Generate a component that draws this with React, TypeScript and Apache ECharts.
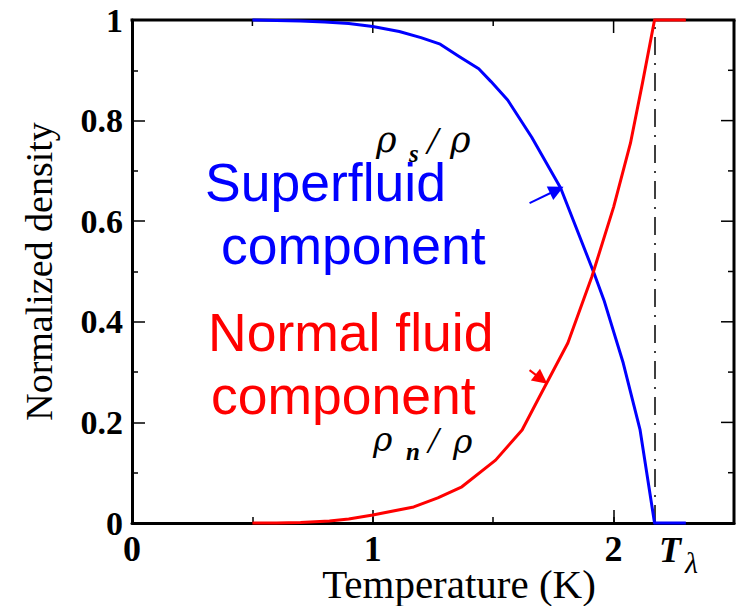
import React, { useEffect, useRef } from 'react';
import * as echarts from 'echarts';

// Lambda point temperature (K)
const T_LAMBDA = 2.17;

// Superfluid fraction rho_s / rho (blue)
const superT = [0.5, 0.6, 0.7, 0.8, 0.9, 1.0, 1.11, 1.2, 1.28, 1.36, 1.44, 1.49, 1.56, 1.66, 1.78, 1.92, 1.96, 2.04, 2.11, 2.17, 2.3];
const superRho = [1.0, 0.999, 0.998, 0.996, 0.993, 0.987, 0.977, 0.965, 0.952, 0.927, 0.903, 0.878, 0.841, 0.767, 0.666, 0.495, 0.443, 0.318, 0.185, 0, 0];

// Normal fluid fraction rho_n / rho (red)
const normalT = [0.5, 0.6, 0.7, 0.82, 0.9, 1.0, 1.17, 1.27, 1.37, 1.51, 1.62, 1.69, 1.81, 1.91, 2.0, 2.07, 2.12, 2.17, 2.3];
const normalRho = [0, 0, 0.001, 0.004, 0.008, 0.016, 0.032, 0.05, 0.072, 0.125, 0.185, 0.249, 0.358, 0.49, 0.628, 0.755, 0.875, 1, 1];

// Arrow annotations (data coords): [startT, startRho, endT, endRho]
const superArrow = [1.651, 0.636, 1.764, 0.662];
const normalArrow = [1.651, 0.304, 1.7, 0.286];

const X_MIN = 0, X_MAX = 2.5, Y_MIN = 0, Y_MAX = 1;
const xMajorTicks = [0, 1, 2];
const xMinorTicks = [0.5, 1.5];
const yMajorTicks = [0, 0.2, 0.4, 0.6, 0.8, 1];
const yMinorTicks = [0.1, 0.3, 0.5, 0.7, 0.9];
const xTickLabels = ['0', '1', '2'];
const yTickLabels = ['0', '0.2', '0.4', '0.6', '0.8', '1'];

const SERIF = '"Liberation Serif", "Times New Roman", serif';
const GREEK = '"DejaVu Serif", serif';
const SANS = '"Liberation Sans", Arial, sans-serif';

const MAJOR_LEN = 13;
const MINOR_LEN = 6;

// plot box layout (px)
const G_LEFT = 132, G_TOP = 20, G_RIGHT = 8, G_BOTTOM = 83, W = 742, H = 606;
const G_W = W - G_LEFT - G_RIGHT;
const G_H = H - G_TOP - G_BOTTOM;

function pairs(xs: number[], ys: number[]) {
  return xs.map((x, i) => [x, ys[i]]);
}

function arrowLine(a: number[]) {
  return [
    { coord: [a[0], a[1]], symbol: 'none' },
    { coord: [a[2], a[3]], symbol: 'triangle', symbolSize: 15 },
  ];
}

export default function App() {
  const ref = useRef<HTMLDivElement>(null);
  useEffect(() => {
    if (!ref.current) return;
    const chart = echarts.init(ref.current, undefined, { renderer: 'svg' });
    const gridRect = {
      left: G_LEFT, top: G_TOP, right: G_RIGHT, bottom: G_BOTTOM,
      containLabel: false, outerBoundsMode: 'none',
    };
    const tickStyle = { color: '#000', width: 1.5 };
    const lineAxis = { show: true, onZero: false, lineStyle: { color: '#000', width: 3 } };
    const noLine = { show: false, onZero: false };

    const txt = (text: string, x: number, y: number, extra: any) => ({
      type: 'text', x, y, z: 10,
      style: { text, fill: '#000', verticalAlign: 'middle', ...extra },
    });

    // top / right frame and its inward ticks
    const sx = (v: number) => G_LEFT + ((v - X_MIN) / (X_MAX - X_MIN)) * G_W;
    const sy = (v: number) => G_TOP + ((Y_MAX - v) / (Y_MAX - Y_MIN)) * G_H;
    const seg = (x1: number, y1: number, x2: number, y2: number, lw: number) => ({
      type: 'line', z: 4, silent: true, shape: { x1, y1, x2, y2 }, style: { stroke: '#000', lineWidth: lw },
    });
    const frame: any[] = [
      seg(G_LEFT - 1.5, G_TOP, G_LEFT + G_W + 1.5, G_TOP, 3),
      seg(G_LEFT + G_W, G_TOP, G_LEFT + G_W, G_TOP + G_H + 1.5, 3),
      ...xMajorTicks.map((v) => seg(sx(v), G_TOP, sx(v), G_TOP + MAJOR_LEN, 1.5)),
      ...xMinorTicks.map((v) => seg(sx(v), G_TOP, sx(v), G_TOP + MINOR_LEN, 1.5)),
      ...yMajorTicks.map((v) => seg(G_LEFT + G_W, sy(v), G_LEFT + G_W - MAJOR_LEN, sy(v), 1.5)),
      ...yMinorTicks.map((v) => seg(G_LEFT + G_W, sy(v), G_LEFT + G_W - MINOR_LEN, sy(v), 1.5)),
    ];

    const option: any = {
      animation: false,
      backgroundColor: '#fff',
      grid: [{ ...gridRect }, { ...gridRect }],
      xAxis: [
        {
          gridIndex: 0, type: 'value', position: 'bottom', min: X_MIN, max: X_MAX, interval: 1,
          axisLine: lineAxis,
          axisTick: { show: true, inside: true, length: MAJOR_LEN, lineStyle: tickStyle },
          splitLine: { show: false },
          axisLabel: {
            margin: 8, color: '#000', fontFamily: SERIF, fontWeight: 'bold', fontSize: 36,
            formatter: (v: number) => (Number.isInteger(v) && v <= 2 ? xTickLabels[v] : ''),
          },
          name: 'Temperature (K)', nameLocation: 'middle', nameGap: 40, nameMoveOverlap: false,
          nameTextStyle: { fontFamily: SERIF, fontSize: 41, color: '#000', padding: [0, 0, 0, 52] },
        },
        {
          gridIndex: 1, type: 'value', position: 'bottom', min: X_MIN, max: X_MAX, interval: 0.5,
          axisLine: noLine,
          axisTick: { show: true, inside: true, length: MINOR_LEN, lineStyle: tickStyle },
          splitLine: { show: false }, axisLabel: { show: false },
        },
      ],
      yAxis: [
        {
          gridIndex: 0, type: 'value', position: 'left', min: Y_MIN, max: Y_MAX, interval: 0.2,
          axisLine: lineAxis,
          axisTick: { show: true, inside: true, length: MAJOR_LEN, lineStyle: tickStyle },
          minorTick: { show: true, splitNumber: 2, length: MINOR_LEN, lineStyle: tickStyle },
          splitLine: { show: false },
          axisLabel: {
            margin: 9, color: '#000', fontFamily: SERIF, fontWeight: 'bold', fontSize: 34,
            formatter: (v: number) => yTickLabels[Math.round(v * 5)] ?? '',
          },
          name: 'Normalized density', nameLocation: 'middle', nameGap: 74, nameMoveOverlap: false,
          nameTextStyle: { fontFamily: SERIF, fontSize: 38, color: '#000' },
        },
        { gridIndex: 1, type: 'value', min: Y_MIN, max: Y_MAX, show: false },
      ],
      series: [
        {
          type: 'line', xAxisIndex: 0, yAxisIndex: 0, clip: false,
          data: pairs(superT, superRho),
          showSymbol: false, symbol: 'none',
          lineStyle: { color: '#0000ff', width: 3, join: 'round' },
          itemStyle: { color: '#0000ff' },
          z: 5,
          markLine: {
            silent: true, animation: false,
            label: { show: false },
            lineStyle: { color: '#0000ff', width: 2, type: 'solid' },
            data: [arrowLine(superArrow)],
          },
        },
        {
          type: 'line', xAxisIndex: 0, yAxisIndex: 0, clip: false,
          data: pairs(normalT, normalRho),
          showSymbol: false, symbol: 'none',
          lineStyle: { color: '#ff0000', width: 3, join: 'round' },
          itemStyle: { color: '#ff0000' },
          z: 5,
          markLine: {
            silent: true, animation: false,
            label: { show: false },
            lineStyle: { color: '#ff0000', width: 2, type: 'solid' },
            data: [arrowLine(normalArrow)],
          },
        },
        {
          type: 'line', xAxisIndex: 0, yAxisIndex: 0, data: [],
          z: 3,
          markLine: {
            silent: true, animation: false,
            symbol: ['none', 'none'],
            label: { show: false },
            lineStyle: { color: '#000', width: 1.5, type: [18, 8, 2, 8] },
            data: [[{ coord: [T_LAMBDA, Y_MIN] }, { coord: [T_LAMBDA, Y_MAX] }]],
          },
        },
      ],
      graphic: [
        ...frame,
        txt('Superfluid', 205, 182, { fontFamily: SANS, fontSize: 53.5, fill: '#0000ff', lineHeight: 40 }),
        txt('component', 221, 245, { fontFamily: SANS, fontSize: 53.5, fill: '#0000ff', lineHeight: 40 }),
        txt('Normal fluid', 208, 332, { fontFamily: SANS, fontSize: 53.5, fill: '#ff0000', lineHeight: 40 }),
        txt('component', 211, 395, { fontFamily: SANS, fontSize: 53.5, fill: '#ff0000', lineHeight: 40 }),
        // rho_s / rho
        txt('ρ', 376, 140, { fontFamily: GREEK, fontStyle: 'italic', fontSize: 35, lineHeight: 22 }),
        txt('s', 409, 153, { fontFamily: SERIF, fontStyle: 'italic', fontWeight: 'bold', fontSize: 25, lineHeight: 12 }),
        txt('/', 427, 140, { fontFamily: SERIF, fontStyle: 'italic', fontSize: 40, lineHeight: 22 }),
        txt('ρ', 450, 140, { fontFamily: GREEK, fontStyle: 'italic', fontSize: 35, lineHeight: 22 }),
        // rho_n / rho
        txt('ρ', 373, 439, { fontFamily: GREEK, fontStyle: 'italic', fontSize: 33, lineHeight: 22 }),
        txt('n', 406, 451, { fontFamily: SERIF, fontStyle: 'italic', fontWeight: 'bold', fontSize: 25, lineHeight: 12 }),
        txt('/', 428, 440, { fontFamily: SERIF, fontStyle: 'italic', fontSize: 38, lineHeight: 22 }),
        txt('ρ', 453, 441, { fontFamily: GREEK, fontStyle: 'italic', fontSize: 33, lineHeight: 22 }),
        // T lambda
        txt('T', 659, 550, { fontFamily: SERIF, fontStyle: 'italic', fontWeight: 'bold', fontSize: 36 }),
        txt('λ', 685, 562, { fontFamily: SERIF, fontStyle: 'italic', fontSize: 30 }),
      ],
    };
    chart.setOption(option);
    return () => chart.dispose();
  }, []);
  return <div ref={ref} style={{ position: 'fixed', left: 0, top: 0, width: W, height: H }} />;
}
